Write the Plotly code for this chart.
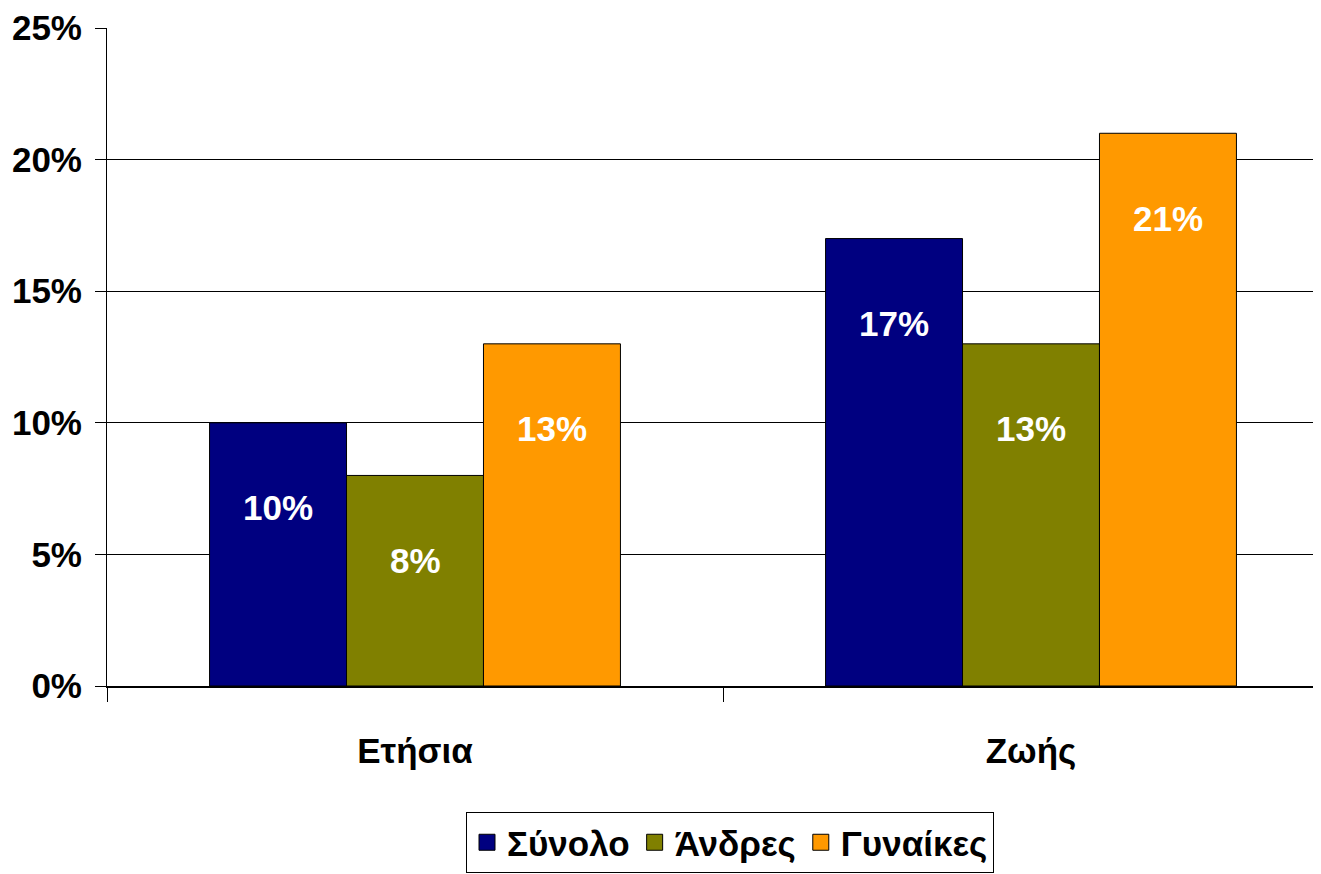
import plotly.graph_objects as go

categories = ["Ετήσια", "Ζωής"]
series_names = ["Σύνολο", "Άνδρες", "Γυναίκες"]
total = [10, 17]
men = [8, 13]
women = [13, 21]
y_ticks = [0, 5, 10, 15, 20, 25]
y_tick_labels = ["0%", "5%", "10%", "15%", "20%", "25%"]

colors = ["#000080", "#808000", "#FF9900"]
FONT = "Liberation Sans, Arial, sans-serif"
FS = 35
BARGAP = 0.333
W = 1345
L = 99

series = [total, men, women]
fig = go.Figure()
for name, vals, col in zip(series_names, series, colors):
    fig.add_trace(go.Bar(
        x=categories, y=vals, name=name, showlegend=False,
        marker=dict(color=col, line=dict(color="black", width=1)),
    ))
# legend entries with larger square swatches
for name, col in zip(series_names, colors):
    fig.add_trace(go.Scatter(
        x=[None], y=[None], mode="markers", name=name,
        marker=dict(symbol="square", size=20, color=col, line=dict(color="black", width=1)),
    ))

# data labels inside bars (white, bold)
n = len(series)
bw = (1 - BARGAP) / n
for k, vals in enumerate(series):
    for j, v in enumerate(vals):
        fig.add_annotation(
            x=j + (k - (n - 1) / 2) * bw, y=v, xref="x", yref="y",
            text=f"{v}%", showarrow=False, yshift=-85,
            font=dict(family=FONT, size=FS, color="white", weight="bold"),
        )

fig.update_layout(
    width=W, height=874,
    margin=dict(l=L, r=0, t=20, b=196, autoexpand=False),
    paper_bgcolor="white", plot_bgcolor="white",
    barmode="group", bargap=BARGAP, bargroupgap=0,
    font=dict(family=FONT, size=FS, color="black", weight="bold"),
    legend=dict(
        orientation="h", x=0.5, xanchor="center", y=-0.1915, yanchor="top",
        bordercolor="black", borderwidth=1,
        font=dict(family=FONT, size=FS, color="black", weight="bold"),
        itemwidth=30, tracegroupgap=0,
    ),
    showlegend=True,
)
fig.update_xaxes(
    type="category", range=[-0.5, -0.5 + (W - L) / 616], automargin=False,
    tickson="boundaries", ticks="outside", ticklen=14, tickcolor="black", tickwidth=1,
    ticklabelstandoff=33,
    showline=True, linecolor="black", linewidth=2,
    showgrid=False, tickfont=dict(family=FONT, size=FS, color="black", weight="bold"),
)
fig.update_yaxes(
    range=[0, 25], tickvals=y_ticks, ticktext=y_tick_labels, automargin=False,
    ticks="outside", ticklen=11, tickcolor="black", tickwidth=1,
    ticklabelstandoff=6,
    showline=True, linecolor="black", linewidth=1,
    showgrid=True, gridcolor="black", gridwidth=1, zeroline=False,
    tickfont=dict(family=FONT, size=FS, color="black", weight="bold"),
)
fig.write_html("out.html")
